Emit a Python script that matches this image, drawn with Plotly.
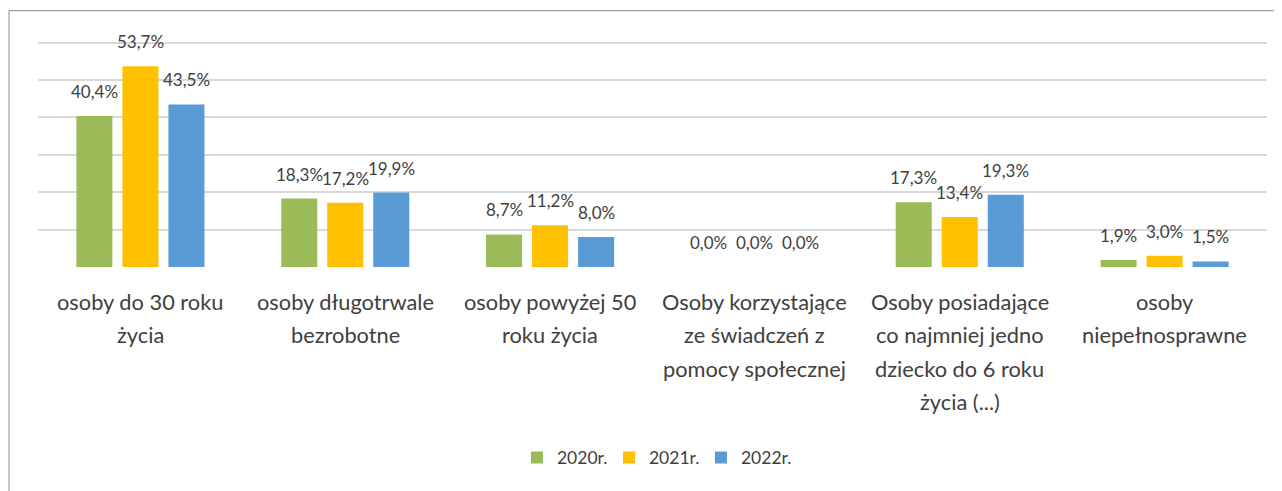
import plotly.graph_objects as go

categories = [
    "osoby do 30 roku<br>życia",
    "osoby długotrwale<br>bezrobotne",
    "osoby powyżej 50<br>roku życia",
    "Osoby korzystające<br>ze świadczeń z<br>pomocy społecznej",
    "Osoby posiadające<br>co najmniej jedno<br>dziecko do 6 roku<br>życia (...)",
    "osoby<br>niepełnosprawne",
]
series_names = ["2020r.", "2021r.", "2022r."]
values_2020 = [40.4, 18.3, 8.7, 0.0, 17.3, 1.9]
values_2021 = [53.7, 17.2, 11.2, 0.0, 13.4, 3.0]
values_2022 = [43.5, 19.9, 8.0, 0.0, 19.3, 1.5]
colors = ["#9BBB59", "#FFC000", "#5B9BD5"]

series_values = [values_2020, values_2021, values_2022]
FONT = "Lato"
TXT = "#404040"

# page body has an 8px margin; figure sized to fit inside the 1282x491 window
W, H = 1274, 483
PX_PER_UNIT = 224 / 60
YMAX = 61
plot_h = YMAX * PX_PER_UNIT
plot_bottom = 259
plot_top = plot_bottom - plot_h
plot_left, plot_right = 30, 1259
plot_w = plot_right - plot_left

fig = go.Figure()
for name, vals, col in zip(series_names, series_values, colors):
    fig.add_trace(go.Bar(x=categories, y=vals, name=name, marker=dict(color=col, line=dict(width=0))))

annotations = []
offsets = [-46, 0, 46]
for vals, off in zip(series_values, offsets):
    for cat, v in zip(categories, vals):
        annotations.append(dict(
            x=cat, y=v, xref="x", yref="y", xshift=off, yshift=12,
            yanchor="bottom", xanchor="center", showarrow=False,
            text=f"{v:.1f}%".replace(".", ","),
            font=dict(family=FONT, size=17, color=TXT),
        ))

line_gap = 33.5
for cat in categories:
    for i, line in enumerate(cat.split("<br>")):
        annotations.append(dict(
            x=cat, y=0, xref="x", yref="paper", yanchor="middle", xanchor="center",
            yshift=-34 - i * line_gap, showarrow=False, text=line,
            font=dict(family=FONT, size=21.8, color=TXT),
        ))

legend_center_px = 449.5
fig.update_layout(
    width=W, height=H,
    margin=dict(l=plot_left, r=W - plot_right, t=plot_top, b=H - plot_bottom, autoexpand=False),
    paper_bgcolor="white", plot_bgcolor="white",
    barmode="group", bargap=0.326, bargroupgap=0.217,
    showlegend=True,
    legend=dict(orientation="h", x=0.502, xanchor="center",
                y=-(legend_center_px - plot_bottom) / plot_h, yanchor="middle",
                font=dict(family=FONT, size=17.5, color=TXT), itemwidth=30,
                entrywidth=47, entrywidthmode="pixels"),
    xaxis=dict(showticklabels=False, showgrid=False, zeroline=False, showline=False, ticks=""),
    yaxis=dict(range=[0, YMAX], tickvals=[0, 10, 20, 30, 40, 50, 60], showticklabels=False,
               showgrid=True, gridcolor="#D9D9D9", gridwidth=2, zeroline=False, showline=False),
    annotations=annotations,
    shapes=[dict(type="rect", xref="paper", yref="paper",
                 x0=(1 - plot_left) / plot_w, x1=1.1, y0=-1.2,
                 y1=(plot_bottom - 3) / plot_h,
                 line=dict(color="#8C8C8C", width=1), fillcolor="rgba(0,0,0,0)", layer="below")],
)

fig.write_html("out.html")
